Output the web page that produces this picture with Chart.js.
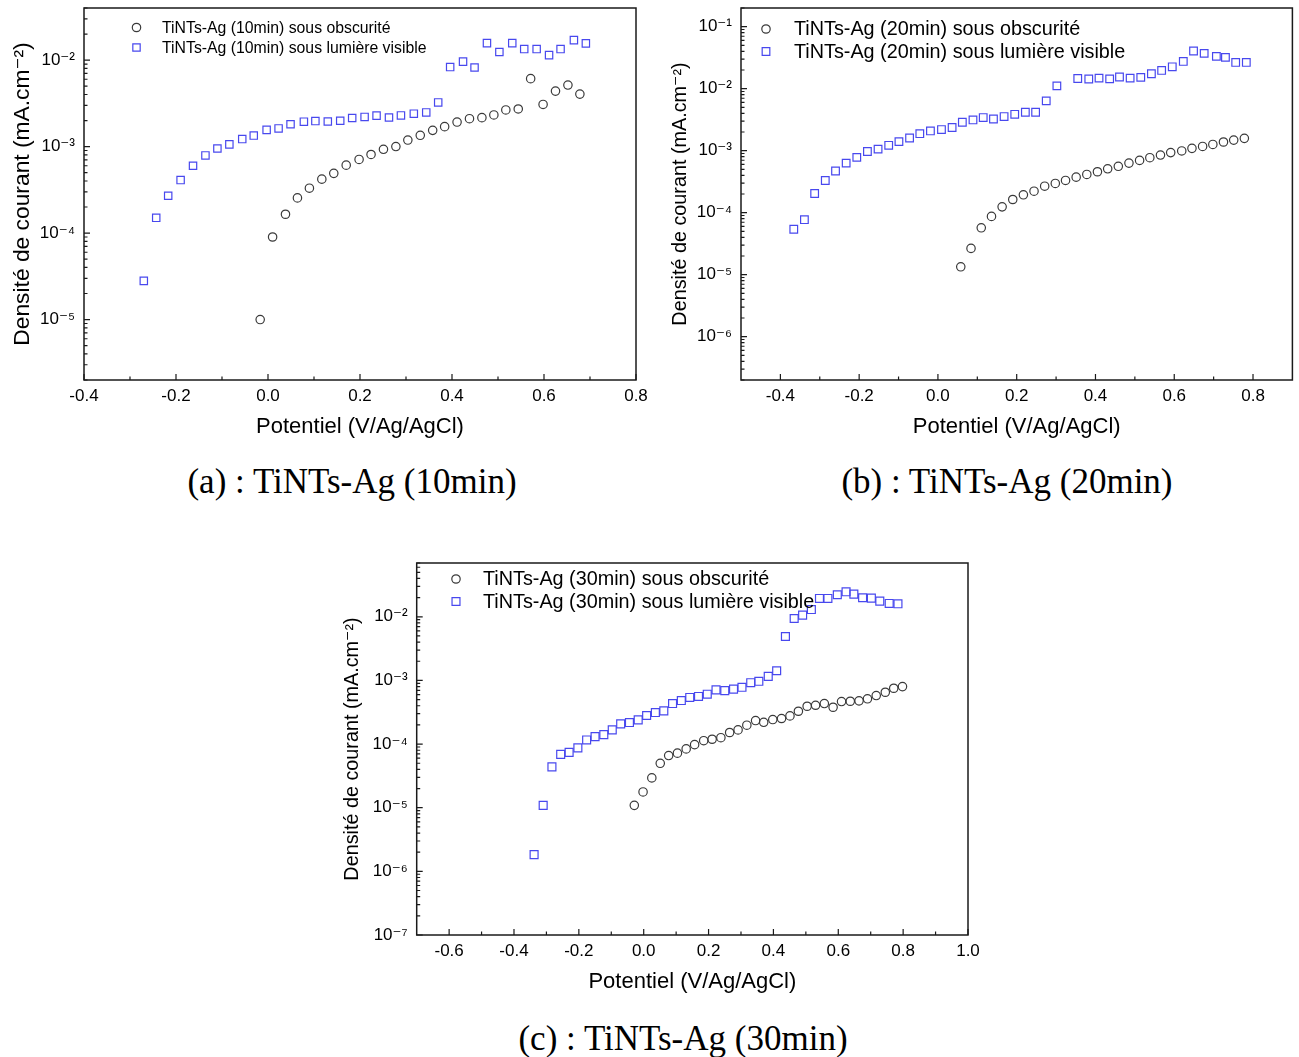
<!doctype html>
<html>
<head>
<meta charset="utf-8">
<title>Densité de courant - TiNTs-Ag</title>
<script src="https://cdn.jsdelivr.net/npm/chart.js@4.4.0/dist/chart.umd.min.js"></script>
<style>
  body { margin: 0; background: #fff; width: 1299px; height: 1057px; position: relative; overflow: hidden; }
  canvas { position: absolute; }
  .caption { position: absolute; font-family: "Liberation Serif", "Times New Roman", serif; font-size: 35px;
             line-height: 1; color: #000; white-space: nowrap; transform: translateX(-50%); }
</style>
</head>
<body>
<canvas id="chartA" width="650" height="445" style="left:0px;top:0px"></canvas>
<canvas id="chartB" width="649" height="445" style="left:650px;top:0px"></canvas>
<canvas id="chartC" width="660" height="445" style="left:330px;top:555px"></canvas>
<div class="caption" style="left:352px;top:464px">(a) : TiNTs-Ag (10min)</div>
<div class="caption" style="left:1007px;top:464px">(b) : TiNTs-Ag (20min)</div>
<div class="caption" style="left:683px;top:1021px">(c) : TiNTs-Ag (30min)</div>
<script>
// --- (a) 10 min ---
const potA_obs = [-0.017, 0.010, 0.038, 0.064, 0.090, 0.117, 0.143, 0.170, 0.198, 0.224, 0.251, 0.278, 0.304, 0.331,
  0.358, 0.384, 0.411, 0.438, 0.465, 0.491, 0.517, 0.544, 0.571, 0.598, 0.625, 0.652, 0.678];
const jA_obs = [1.0e-5, 9.0e-5, 1.65e-4, 2.55e-4, 3.3e-4, 4.2e-4, 4.9e-4, 6.1e-4, 7.1e-4, 8.1e-4, 9.3e-4, 1.0e-3, 1.19e-3, 1.35e-3,
  1.54e-3, 1.70e-3, 1.92e-3, 2.10e-3, 2.16e-3, 2.32e-3, 2.65e-3, 2.72e-3, 6.1e-3, 3.07e-3, 4.38e-3, 5.14e-3, 4.04e-3];
const potA_vis = [-0.270, -0.243, -0.217, -0.190, -0.163, -0.136, -0.110, -0.084, -0.056, -0.031, -0.003, 0.023, 0.049,
  0.078, 0.103, 0.130, 0.157, 0.183, 0.210, 0.236, 0.263, 0.289, 0.317, 0.344, 0.370, 0.396, 0.424, 0.449, 0.476,
  0.503, 0.531, 0.557, 0.584, 0.611, 0.636, 0.665, 0.691];
const jA_vis = [2.8e-5, 1.5e-4, 2.7e-4, 4.1e-4, 6.0e-4, 7.9e-4, 9.5e-4, 1.06e-3, 1.22e-3, 1.34e-3, 1.56e-3, 1.62e-3, 1.81e-3,
  1.94e-3, 1.97e-3, 1.95e-3, 1.99e-3, 2.14e-3, 2.20e-3, 2.28e-3, 2.17e-3, 2.29e-3, 2.40e-3, 2.48e-3, 3.24e-3, 8.3e-3, 9.6e-3,
  8.2e-3, 1.57e-2, 1.24e-2, 1.57e-2, 1.34e-2, 1.34e-2, 1.14e-2, 1.34e-2, 1.70e-2, 1.56e-2];
const xTicksA = [-0.4, -0.2, 0.0, 0.2, 0.4, 0.6, 0.8];
const yTicksA = [1e-5, 1e-4, 1e-3, 1e-2];
const yLabelsA = ['10⁻⁵', '10⁻⁴', '10⁻³', '10⁻²'];

// --- (b) 20 min ---
const potB_obs = [0.058, 0.084, 0.110, 0.136, 0.163, 0.190, 0.217, 0.244, 0.271, 0.298, 0.324, 0.351, 0.378, 0.405,
  0.431, 0.458, 0.485, 0.512, 0.538, 0.565, 0.591, 0.619, 0.645, 0.672, 0.698, 0.725, 0.751, 0.778];
const jB_obs = [1.34e-5, 2.65e-5, 5.7e-5, 8.7e-5, 1.24e-4, 1.63e-4, 1.94e-4, 2.22e-4, 2.67e-4, 2.96e-4, 3.31e-4, 3.74e-4,
  4.13e-4, 4.57e-4, 5.1e-4, 5.6e-4, 6.3e-4, 6.97e-4, 7.7e-4, 8.5e-4, 9.3e-4, 9.9e-4, 1.09e-3, 1.17e-3, 1.26e-3, 1.38e-3,
  1.48e-3, 1.58e-3];
const potB_vis = [-0.366, -0.339, -0.313, -0.286, -0.260, -0.233, -0.206, -0.179, -0.152, -0.125, -0.099, -0.072, -0.046,
  -0.019, 0.009, 0.036, 0.062, 0.089, 0.115, 0.141, 0.168, 0.195, 0.222, 0.248, 0.275, 0.302, 0.355, 0.383, 0.409, 0.436,
  0.461, 0.488, 0.515, 0.542, 0.568, 0.595, 0.623, 0.649, 0.676, 0.707, 0.730, 0.756, 0.783];
const jB_vis = [5.4e-5, 7.7e-5, 2.04e-4, 3.3e-4, 4.7e-4, 6.3e-4, 7.8e-4, 9.7e-4, 1.06e-3, 1.22e-3, 1.40e-3, 1.60e-3, 1.88e-3,
  2.08e-3, 2.19e-3, 2.36e-3, 2.87e-3, 3.13e-3, 3.42e-3, 3.24e-3, 3.55e-3, 3.86e-3, 4.17e-3, 4.17e-3, 6.35e-3, 1.11e-2, 1.46e-2,
  1.43e-2, 1.48e-2, 1.44e-2, 1.54e-2, 1.48e-2, 1.52e-2, 1.74e-2, 1.97e-2, 2.25e-2, 2.75e-2, 4.05e-2, 3.71e-2, 3.32e-2, 3.20e-2,
  2.65e-2, 2.65e-2];
const xTicksB = [-0.4, -0.2, 0.0, 0.2, 0.4, 0.6, 0.8];
const yTicksB = [1e-6, 1e-5, 1e-4, 1e-3, 1e-2, 1e-1];
const yLabelsB = ['10⁻⁶', '10⁻⁵', '10⁻⁴', '10⁻³', '10⁻²', '10⁻¹'];

// --- (c) 30 min ---
const potC_obs = [-0.029, -0.002, 0.025, 0.051, 0.077, 0.104, 0.131, 0.157, 0.185, 0.211, 0.238, 0.265, 0.291, 0.318, 0.345,
  0.370, 0.398, 0.425, 0.451, 0.477, 0.504, 0.530, 0.557, 0.584, 0.610, 0.637, 0.664, 0.690, 0.717, 0.745, 0.771, 0.798];
const jC_obs = [1.09e-5, 1.77e-5, 2.94e-5, 4.99e-5, 6.6e-5, 7.2e-5, 8.4e-5, 9.8e-5, 1.13e-4, 1.19e-4, 1.26e-4, 1.52e-4, 1.67e-4,
  1.98e-4, 2.34e-4, 2.20e-4, 2.43e-4, 2.52e-4, 2.77e-4, 3.28e-4, 3.93e-4, 4.07e-4, 4.33e-4, 3.79e-4, 4.66e-4, 4.71e-4, 4.78e-4,
  5.14e-4, 5.79e-4, 6.52e-4, 7.54e-4, 8.0e-4];
const potC_vis = [-0.338, -0.310, -0.283, -0.256, -0.230, -0.203, -0.176, -0.150, -0.123, -0.097, -0.071, -0.044, -0.017,
  0.009, 0.036, 0.062, 0.089, 0.116, 0.142, 0.169, 0.196, 0.223, 0.250, 0.277, 0.303, 0.330, 0.355, 0.384, 0.410, 0.437,
  0.464, 0.490, 0.517, 0.542, 0.568, 0.597, 0.624, 0.648, 0.675, 0.702, 0.728, 0.757, 0.784];
const jC_vis = [1.83e-6, 1.09e-5, 4.38e-5, 6.9e-5, 7.4e-5, 8.7e-5, 1.16e-4, 1.31e-4, 1.41e-4, 1.67e-4, 2.08e-4, 2.18e-4, 2.40e-4,
  2.81e-4, 3.13e-4, 3.32e-4, 4.33e-4, 4.83e-4, 5.4e-4, 5.6e-4, 6.07e-4, 7.1e-4, 6.9e-4, 7.3e-4, 7.8e-4, 9.2e-4, 9.7e-4, 1.16e-3,
  1.42e-3, 4.9e-3, 9.4e-3, 1.06e-2, 1.30e-2, 1.94e-2, 1.94e-2, 2.22e-2, 2.47e-2, 2.27e-2, 1.99e-2, 1.96e-2, 1.76e-2, 1.62e-2,
  1.60e-2];
const xTicksC = [-0.6, -0.4, -0.2, 0.0, 0.2, 0.4, 0.6, 0.8, 1.0];
const yTicksC = [1e-7, 1e-6, 1e-5, 1e-4, 1e-3, 1e-2];
const yLabelsC = ['10⁻⁷', '10⁻⁶', '10⁻⁵', '10⁻⁴', '10⁻³', '10⁻²'];

const xTitle = 'Potentiel (V/Ag/AgCl)';
const yTitle = 'Densité de courant (mA.cm⁻²)';

const SANS = '"Liberation Sans", Arial, "DejaVu Sans", sans-serif';
const DARK = '#3a3a3a';
const BLUE = '#4848ee';

// box around the plot, inward ticks and the legend inside the frame
const frame = {
  id: 'frame',
  afterDraw(chart, args, opts) {
    const { ctx, chartArea: a, scales: { x, y } } = chart;
    ctx.save();
    ctx.strokeStyle = '#1a1a1a';
    ctx.lineWidth = 1.2;
    ctx.beginPath();
    x.ticks.forEach(t => {
      const px = x.getPixelForValue(t.value);
      ctx.moveTo(px, a.bottom); ctx.lineTo(px, a.bottom - 6);
      const m = x.getPixelForValue(t.value + 0.1);
      if (m > a.left + 1 && m < a.right - 1) { ctx.moveTo(m, a.bottom); ctx.lineTo(m, a.bottom - 3.5); }
    });
    const m0 = x.getPixelForValue(x.ticks[0].value - 0.1);
    if (m0 > a.left + 1) { ctx.moveTo(m0, a.bottom); ctx.lineTo(m0, a.bottom - 3.5); }
    const lo = Math.floor(Math.log10(y.min)), hi = Math.ceil(Math.log10(y.max));
    for (let e = lo; e <= hi; e++) {
      for (let k = 1; k <= 9; k++) {
        const v = k * Math.pow(10, e);
        if (v < y.min * 0.999 || v > y.max * 1.001) continue;
        const py = y.getPixelForValue(v);
        ctx.moveTo(a.left, py); ctx.lineTo(a.left + (k === 1 ? 6 : 3.5), py);
      }
    }
    ctx.stroke();
    ctx.lineWidth = 1.5;
    ctx.strokeRect(a.left, a.top, a.right - a.left, a.bottom - a.top);

    // legend
    ctx.font = opts.fontSize + 'px ' + SANS;
    ctx.textBaseline = 'middle';
    ctx.textAlign = 'left';
    chart.data.datasets.forEach((ds, i) => {
      const ly = opts.y + i * opts.gap;
      ctx.strokeStyle = ds.borderColor;
      ctx.fillStyle = 'rgba(0,0,0,0)';
      ctx.lineWidth = ds.borderWidth;
      Chart.helpers.drawPoint(ctx, { pointStyle: ds.pointStyle, radius: ds.pointRadius, borderWidth: ds.borderWidth, rotation: 0 }, opts.x, ly);
      ctx.fillStyle = '#000';
      ctx.fillText(ds.label, opts.textX, ly + 1);
    });
    ctx.restore();
  }
};

function series(label, xs, ys, style, radius, color) {
  return {
    label: label,
    data: xs.map((v, i) => ({ x: v, y: ys[i] })),
    pointStyle: style,
    pointRadius: radius,
    borderColor: color,
    backgroundColor: 'rgba(0,0,0,0)',
    borderWidth: 1.2,
    showLine: false
  };
}

function plot(id, o) {
  return new Chart(document.getElementById(id), {
    type: 'scatter',
    data: {
      datasets: [
        series(o.names[0], o.obs[0], o.obs[1], 'circle', 4.2, DARK),
        series(o.names[1], o.vis[0], o.vis[1], 'rect', o.rs, BLUE)
      ]
    },
    options: {
      responsive: false,
      animation: false,
      events: [],
      layout: { padding: { left: 0, top: 8, right: o.padRight, bottom: 0 } },
      plugins: {
        legend: { display: false },
        tooltip: { enabled: false },
        frame: o.legend
      },
      scales: {
        x: {
          type: 'linear', min: o.xMin, max: o.xMax,
          grid: { display: false, drawTicks: false },
          border: { display: false },
          afterBuildTicks: s => { s.ticks = o.xTicks.map(v => ({ value: v })); },
          afterFit: s => { s.height = 65; s.paddingLeft = 0; s.paddingRight = 0; },
          ticks: { autoSkip: false, maxRotation: 0, padding: 6, color: '#000', font: { family: SANS, size: 17 },
                   callback: v => v.toFixed(1) },
          title: { display: true, text: xTitle, color: '#000', font: { family: SANS, size: 22 },
                   padding: { top: 0, bottom: 5 } }
        },
        y: {
          type: 'logarithmic', min: o.yMin, max: o.yMax,
          grid: { display: false, drawTicks: false },
          border: { display: false },
          afterBuildTicks: s => { s.ticks = o.yTicks.map(v => ({ value: v })); },
          afterFit: s => { s.width = o.yWidth; s.paddingTop = 0; s.paddingBottom = 0; },
          ticks: { autoSkip: false, padding: 9, color: '#000', font: { family: SANS, size: 17 },
                   callback: (v, i) => o.yLabels[i] },
          title: { display: true, text: yTitle, color: '#000', font: { family: SANS, size: o.yTitleSize },
                   padding: { top: o.yTitlePad, bottom: 0 } }
        }
      }
    },
    plugins: [frame]
  });
}

plot('chartA', {
  names: ['TiNTs-Ag (10min) sous obscurité', 'TiNTs-Ag (10min) sous lumière visible'],
  obs: [potA_obs, jA_obs], vis: [potA_vis, jA_vis], rs: 5.2,
  xMin: -0.4, xMax: 0.8, xTicks: xTicksA,
  yMin: 2e-6, yMax: 4e-2, yTicks: yTicksA, yLabels: yLabelsA,
  yWidth: 84, padRight: 14, yTitleSize: 22.8, yTitlePad: 9.3,
  legend: { x: 136.5, y: 27.5, gap: 20, textX: 162, fontSize: 15.8 }
});

plot('chartB', {
  names: ['TiNTs-Ag (20min) sous obscurité', 'TiNTs-Ag (20min) sous lumière visible'],
  obs: [potB_obs, jB_obs], vis: [potB_vis, jB_vis], rs: 5.4,
  xMin: -0.5, xMax: 0.9, xTicks: xTicksB,
  yMin: 2e-7, yMax: 0.2, yTicks: yTicksB, yLabels: yLabelsB,
  yWidth: 91, padRight: 6, yTitleSize: 19.8, yTitlePad: 19,
  legend: { x: 116, y: 29, gap: 22.5, textX: 144, fontSize: 19.8 }
});

plot('chartC', {
  names: ['TiNTs-Ag (30min) sous obscurité', 'TiNTs-Ag (30min) sous lumière visible'],
  obs: [potC_obs, jC_obs], vis: [potC_vis, jC_vis], rs: 5.6,
  xMin: -0.7, xMax: 1.0, xTicks: xTicksC,
  yMin: 1e-7, yMax: 7e-2, yTicks: yTicksC, yLabels: yLabelsC,
  yWidth: 86.7, padRight: 22, yTitleSize: 19.8, yTitlePad: 11,
  legend: { x: 126, y: 24, gap: 22.5, textX: 153, fontSize: 19.8 }
});
</script>
</body>
</html>
